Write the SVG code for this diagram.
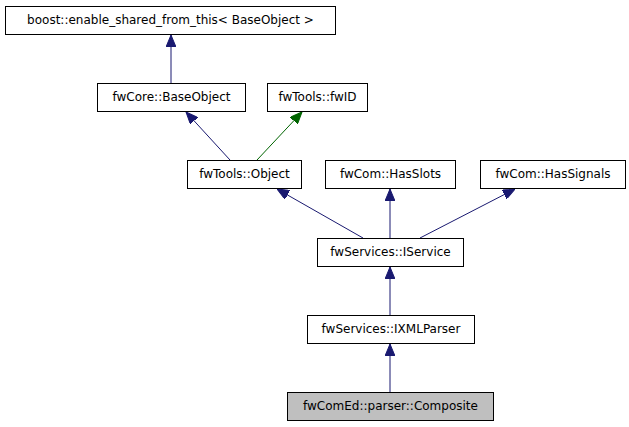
<svg xmlns="http://www.w3.org/2000/svg" width="629" height="427" viewBox="0 0 629 427">
<style>
.n rect{fill:#fff;stroke:#000;stroke-width:1}
.n text{font-family:"DejaVu Sans",sans-serif;font-size:12px;text-anchor:middle;fill:#000}
#n8 rect{fill:#bfbfbf}
.e{stroke:#191970;stroke-width:1;fill:none;marker-end:url(#ab)}
.g{stroke:#006400;stroke-width:1;fill:none;marker-end:url(#ag)}
</style>
<defs>
<marker id="ab" viewBox="0 0 12 10" refX="12" refY="5" markerWidth="12" markerHeight="10" markerUnits="userSpaceOnUse" orient="auto"><path d="M0,0 L12,5 L0,10 z" fill="#191970" stroke="#191970"/></marker>
<marker id="ag" viewBox="0 0 12 10" refX="12" refY="5" markerWidth="12" markerHeight="10" markerUnits="userSpaceOnUse" orient="auto"><path d="M0,0 L12,5 L0,10 z" fill="#006400" stroke="#006400"/></marker>
</defs>
<rect width="629" height="427" fill="#fff"/>
<g id="edges">
<path class="e" d="M171,83 L171,35"/>
<path class="e" d="M230,160 L186,112"/>
<path class="g" d="M257,160 L302,112"/>
<path class="e" d="M363,238 L277,189"/>
<path class="e" d="M390,238 L390,189"/>
<path class="e" d="M420,238 L515,189"/>
<path class="e" d="M390,315 L390,267"/>
<path class="e" d="M390,392 L390,344"/>
</g>
<g id="n1" class="n"><rect x="5.5" y="6.5" width="330" height="28"/><text x="170.5" y="24">boost::enable_shared_from_this&lt; BaseObject &gt;</text></g>
<g id="n2" class="n"><rect x="97.5" y="83.5" width="148" height="28"/><text x="171.5" y="101">fwCore::BaseObject</text></g>
<g id="n3" class="n"><rect x="267.5" y="83.5" width="100" height="28"/><text x="317.5" y="101">fwTools::fwID</text></g>
<g id="n4" class="n"><rect x="187.5" y="160.5" width="114" height="28"/><text x="244.5" y="178">fwTools::Object</text></g>
<g id="n5" class="n"><rect x="325.5" y="160.5" width="130" height="28"/><text x="390.5" y="178">fwCom::HasSlots</text></g>
<g id="n6" class="n"><rect x="480.5" y="160.5" width="145" height="28"/><text x="553" y="178">fwCom::HasSignals</text></g>
<g id="n7" class="n"><rect x="317.5" y="238.5" width="146" height="28"/><text x="390.5" y="256">fwServices::IService</text></g>
<g id="n9" class="n"><rect x="307.5" y="315.5" width="167" height="28"/><text x="391" y="333">fwServices::IXMLParser</text></g>
<g id="n8" class="n"><rect x="287.5" y="392.5" width="206" height="28"/><text x="390.5" y="410">fwComEd::parser::Composite</text></g>
</svg>
